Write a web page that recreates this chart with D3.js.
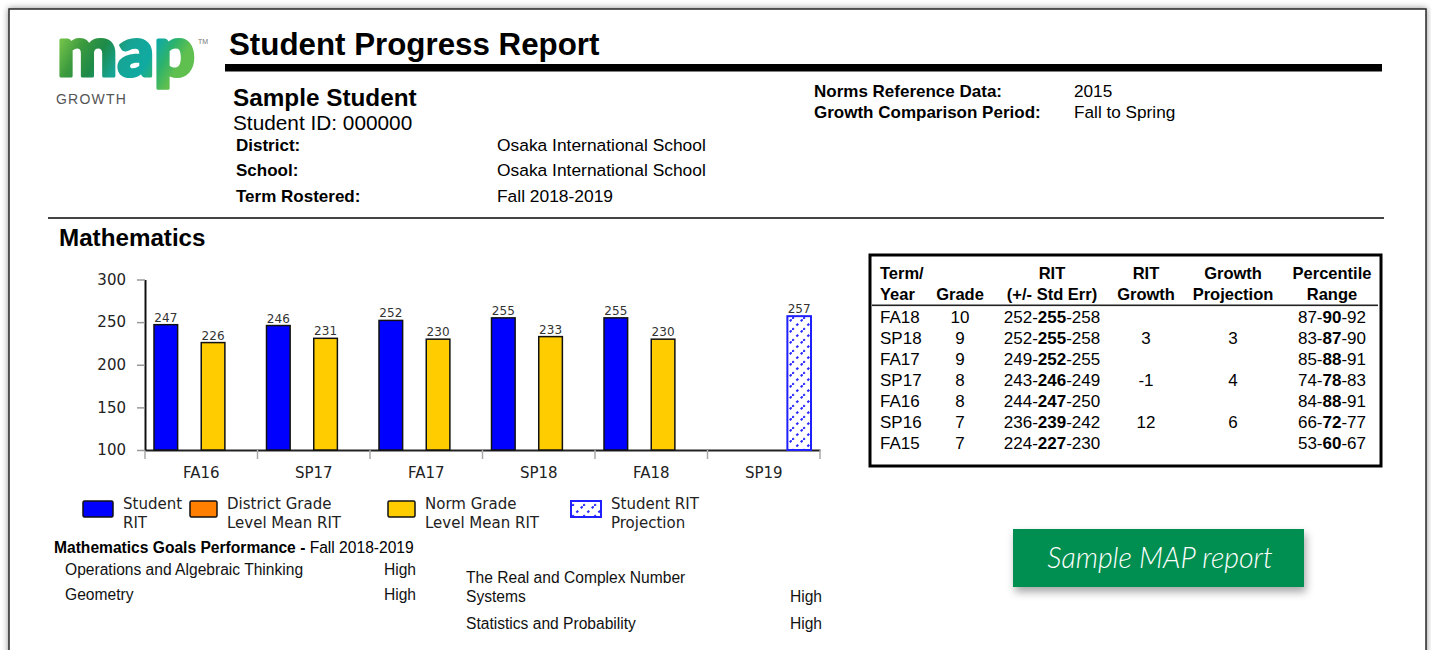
<!DOCTYPE html>
<html>
<head>
<meta charset="utf-8">
<script src="https://cdn.jsdelivr.net/npm/d3@7"></script>
<style>
  html, body { margin: 0; padding: 0; background: #ffffff; }
  svg { display: block; }
</style>
</head>
<body>
<svg id="page" width="1431" height="650"></svg>
<script>
// ---------------- DATA ----------------
const terms = ["FA16", "SP17", "FA17", "SP18", "FA18", "SP19"];
const seriesKeys = ["student", "district", "norm", "projection"];
const studentRIT = [247, 246, 252, 255, 255, null];
const districtMeanRIT = [null, null, null, null, null, null];
const normMeanRIT = [226, 231, 230, 233, 230, null];
const projectedRIT = [null, null, null, null, null, 257];
const yTicks = [100, 150, 200, 250, 300];
const legendLabels = [["Student", "RIT"], ["District Grade", "Level Mean RIT"], ["Norm Grade", "Level Mean RIT"], ["Student RIT", "Projection"]];

const tableHeaders = [["Term/", "Year"], ["", "Grade"], ["RIT", "(+/- Std Err)"], ["RIT", "Growth"], ["Growth", "Projection"], ["Percentile", "Range"]];
const tableTerms = ["FA18", "SP18", "FA17", "SP17", "FA16", "SP16", "FA15"];
const tableGrades = ["10", "9", "9", "8", "8", "7", "7"];
const ritLow = [252, 252, 249, 243, 244, 236, 224];
const ritMid = [255, 255, 252, 246, 247, 239, 227];
const ritHigh = [258, 258, 255, 249, 250, 242, 230];
const ritGrowth = ["", "3", "", "-1", "", "12", ""];
const growthProjection = ["", "3", "", "4", "", "6", ""];
const pctLow = [87, 83, 85, 74, 84, 66, 53];
const pctMid = [90, 87, 88, 78, 88, 72, 60];
const pctHigh = [92, 90, 91, 83, 91, 77, 67];

const goalsLeft = [["Operations and Algebraic Thinking"], ["Geometry"]];
const goalsLeftLevel = ["High", "High"];
const goalsRight = [["The Real and Complex Number", "Systems"], ["Statistics and Probability"]];
const goalsRightLevel = ["High", "High"];

// ---------------- PAGE ----------------
const svg = d3.select("#page");
const defs = svg.append("defs");

const shadow = defs.append("filter").attr("id", "pageShadow").attr("x", "-5%").attr("y", "-5%").attr("width", "110%").attr("height", "110%");
shadow.append("feDropShadow").attr("dx", 0).attr("dy", 0).attr("stdDeviation", 3).attr("flood-color", "#000").attr("flood-opacity", 0.45);

const btnShadow = defs.append("filter").attr("id", "btnShadow").attr("x", "-20%").attr("y", "-30%").attr("width", "140%").attr("height", "180%");
btnShadow.append("feDropShadow").attr("dx", 2).attr("dy", 5).attr("stdDeviation", 4).attr("flood-color", "#000").attr("flood-opacity", 0.35);

const logoGrad = defs.append("linearGradient").attr("id", "logoGrad").attr("x1", "0").attr("y1", "0").attr("x2", "1").attr("y2", "0.35");
[["0", "#2a9e48"], ["0.15", "#72c24a"], ["0.3", "#3c9a3e"], ["0.45", "#1d8a48"], ["0.6", "#17a493"], ["0.78", "#10aaa2"], ["0.9", "#2fb36a"], ["1", "#5fbf4f"]]
  .forEach(([o, c]) => logoGrad.append("stop").attr("offset", o).attr("stop-color", c));

const pat = defs.append("pattern").attr("id", "projPattern").attr("patternUnits", "userSpaceOnUse")
  .attr("width", 11).attr("height", 11);
pat.append("rect").attr("width", 11).attr("height", 11).attr("fill", "#ffffff");
pat.append("line").attr("x1", 0).attr("y1", 11).attr("x2", 11).attr("y2", 0)
  .attr("stroke", "#2b2bff").attr("stroke-width", 2.1).attr("stroke-dasharray", "2.6,3.6");

svg.append("rect").attr("x", 9).attr("y", 9).attr("width", 1417).attr("height", 700)
  .attr("fill", "#fff").attr("stroke", "#2a2a2a").attr("stroke-width", 1.5).attr("filter", "url(#pageShadow)");

// Logo
svg.append("text").attr("x", 57).attr("y", 76).attr("font-family", "Lato, sans-serif").attr("font-weight", 900)
  .attr("font-size", 70).attr("fill", "url(#logoGrad)").attr("stroke", "url(#logoGrad)").attr("stroke-width", 3.2)
  .attr("stroke-linejoin", "round").attr("textLength", 138).attr("lengthAdjust", "spacingAndGlyphs")
  .text("map");
svg.append("text").attr("x", 198).attr("y", 44).attr("font-family", "Liberation Sans, Arial, sans-serif")
  .attr("font-size", 7).attr("fill", "#777").text("TM");
svg.append("text").attr("x", 56).attr("y", 104).attr("font-family", "Liberation Sans, Arial, sans-serif").attr("font-size", 14)
  .attr("fill", "#555").attr("letter-spacing", 1.2).text("GROWTH");

const HF = "Liberation Sans, Arial, Helvetica, sans-serif";
function txt(x, y, s, size, weight, anchor, fill) {
  return svg.append("text").attr("x", x).attr("y", y).attr("font-family", HF).attr("font-size", size)
    .attr("font-weight", weight || "normal").attr("text-anchor", anchor || "start").attr("fill", fill || "#000").text(s);
}

// Header
txt(229, 55, "Student Progress Report", 31.3, "bold");
svg.append("rect").attr("x", 225).attr("y", 64).attr("width", 1157).attr("height", 7.5).attr("fill", "#000");
txt(233, 106, "Sample Student", 24.3, "bold");
txt(233, 130, "Student ID: 000000", 20.8);
txt(236, 151, "District:", 17, "bold");
txt(497, 151, "Osaka International School", 17.4);
txt(236, 176, "School:", 17, "bold");
txt(497, 176, "Osaka International School", 17.4);
txt(236, 202, "Term Rostered:", 17, "bold");
txt(497, 202, "Fall 2018-2019", 17.4);
txt(814, 97, "Norms Reference Data:", 17, "bold");
txt(1074, 97, "2015", 17.2);
txt(814, 118, "Growth Comparison Period:", 17, "bold");
txt(1074, 118, "Fall to Spring", 17.2);
svg.append("rect").attr("x", 48).attr("y", 217).attr("width", 1336).attr("height", 2).attr("fill", "#444");
txt(59, 246, "Mathematics", 24.2, "bold");

// ---------------- CHART ----------------
const CF = "DejaVu Sans, Verdana, sans-serif";
const x0 = d3.scaleBand().domain(terms).range([145, 820]).paddingInner(0).paddingOuter(0);
const x1 = d3.scaleBand().domain(seriesKeys).range([9, 103.5]).padding(0);
const y = d3.scaleLinear().domain([100, 300]).range([450, 279.5]);

const seriesData = {
  student: studentRIT, district: districtMeanRIT, norm: normMeanRIT, projection: projectedRIT
};
const fills = { student: "#0000ff", district: "#ff7f00", norm: "#ffcc00", projection: "url(#projPattern)" };
const strokes = { student: "#111", district: "#111", norm: "#111", projection: "#1f1fff" };

const bars = [];
terms.forEach((t, i) => {
  seriesKeys.forEach(k => {
    const v = seriesData[k][i];
    if (v != null) bars.push({ term: t, key: k, value: v });
  });
});

const chart = svg.append("g");

// x axis with boundary ticks
const xAxisG = chart.append("g").attr("transform", `translate(0,${y(100)})`)
  .call(d3.axisBottom(x0).tickSize(0).tickPadding(17));
xAxisG.select(".domain").attr("stroke", "#222").attr("stroke-width", 2);
xAxisG.selectAll("text").attr("font-family", CF).attr("font-size", 15).attr("fill", "#222");
const boundaries = terms.map(t => x0(t)).concat([x0.range()[1]]);
chart.selectAll("line.bnd").data(boundaries).join("line").attr("class", "bnd")
  .attr("x1", d => d).attr("x2", d => d).attr("y1", y(100)).attr("y2", y(100) + 9)
  .attr("stroke", "#aaa").attr("stroke-width", 1.5);

// y axis
const yAxisG = chart.append("g").attr("transform", `translate(${x0.range()[0]},0)`)
  .call(d3.axisLeft(y).tickValues(yTicks).tickSize(8).tickSizeOuter(0).tickPadding(11));
yAxisG.select(".domain").attr("stroke", "#111").attr("stroke-width", 2);
yAxisG.selectAll(".tick line").attr("stroke", "#999").attr("stroke-width", 1.5);
yAxisG.selectAll("text").attr("font-family", CF).attr("font-size", 15).attr("fill", "#222");

// bars
chart.selectAll("rect.bar").data(bars).join("rect").attr("class", "bar")
  .attr("x", d => x0(d.term) + x1(d.key))
  .attr("y", d => y(d.value))
  .attr("width", x1.bandwidth())
  .attr("height", d => y(100) - y(d.value))
  .attr("fill", d => fills[d.key])
  .attr("stroke", d => strokes[d.key])
  .attr("stroke-width", d => d.key === "projection" ? 2 : 1.5);

chart.selectAll("text.val").data(bars).join("text").attr("class", "val")
  .attr("x", d => x0(d.term) + x1(d.key) + x1.bandwidth() / 2)
  .attr("y", d => y(d.value) - 3)
  .attr("text-anchor", "middle").attr("font-family", CF).attr("font-size", 12).attr("fill", "#333")
  .text(d => d.value);

// legend
const legendX = [83, 190, 388, 571];
const legendW = [30, 27, 27, 30];
const legend = svg.append("g");
seriesKeys.forEach((k, i) => {
  legend.append("rect").attr("x", legendX[i]).attr("y", 501).attr("width", legendW[i]).attr("height", 16)
    .attr("fill", fills[k]).attr("stroke", k === "projection" ? "#1f1fff" : "#111")
    .attr("stroke-width", k === "projection" ? 2 : 1.5).attr("rx", k === "projection" ? 0 : 1.5);
  const t = legend.append("text").attr("font-family", CF).attr("font-size", 15).attr("fill", "#222");
  legendLabels[i].forEach((line, j) => {
    t.append("tspan").attr("x", legendX[i] + legendW[i] + 10).attr("y", 509 + j * 19).text(line);
  });
});

// goals
const gt = svg.append("text").attr("x", 54).attr("y", 553).attr("font-family", HF).attr("font-size", 15.6).attr("fill", "#000");
gt.append("tspan").attr("font-weight", "bold").text("Mathematics Goals Performance - ");
gt.append("tspan").text("Fall 2018-2019");

const goalLeftY = [575, 600];
goalsLeft.forEach((lines, i) => {
  lines.forEach((l, j) => txt(65, goalLeftY[i] + j * 19, l, 15.6, "normal", "start", "#111"));
  txt(416, goalLeftY[i] + (lines.length - 1) * 19, goalsLeftLevel[i], 15.6, "normal", "end", "#111");
});
const goalRightY = [583, 629];
goalsRight.forEach((lines, i) => {
  lines.forEach((l, j) => txt(466, goalRightY[i] + j * 19, l, 15.6, "normal", "start", "#111"));
  txt(822, goalRightY[i] + (lines.length - 1) * 19, goalsRightLevel[i], 15.6, "normal", "end", "#111");
});

// ---------------- TABLE ----------------
const tbl = svg.append("g");
tbl.append("rect").attr("x", 870).attr("y", 255).attr("width", 511).attr("height", 211)
  .attr("fill", "none").attr("stroke", "#000").attr("stroke-width", 3);
tbl.append("rect").attr("x", 872).attr("y", 304.5).attr("width", 506).attr("height", 1.6).attr("fill", "#222");

const colX = [880, 960, 1052, 1146, 1233, 1332];
const colAnchor = ["start", "middle", "middle", "middle", "middle", "middle"];
tableHeaders.forEach((h, c) => {
  h.forEach((line, j) => {
    if (line) txt(colX[c], 279 + j * 20.5, line, 16.5, "bold", colAnchor[c], "#000");
  });
});
const rowY = d3.scaleLinear().domain([0, 6]).range([323, 449]);
tableTerms.forEach((t, r) => {
  const yy = rowY(r);
  txt(colX[0], yy, t, 17, "normal", "start", "#000");
  txt(colX[1], yy, tableGrades[r], 17, "normal", "middle", "#000");
  const rt = txt(colX[2], yy, "", 17, "normal", "middle", "#000");
  rt.append("tspan").text(ritLow[r] + "-");
  rt.append("tspan").attr("font-weight", "bold").text(ritMid[r]);
  rt.append("tspan").text("-" + ritHigh[r]);
  txt(colX[3], yy, ritGrowth[r], 17, "normal", "middle", "#000");
  txt(colX[4], yy, growthProjection[r], 17, "normal", "middle", "#000");
  const pt = txt(colX[5], yy, "", 17, "normal", "middle", "#000");
  pt.append("tspan").text(pctLow[r] + "-");
  pt.append("tspan").attr("font-weight", "bold").text(pctMid[r]);
  pt.append("tspan").text("-" + pctHigh[r]);
});

// ---------------- BUTTON ----------------
svg.append("rect").attr("x", 1013).attr("y", 529).attr("width", 291).attr("height", 58)
  .attr("fill", "#008f51").attr("filter", "url(#btnShadow)");
svg.append("text").attr("x", 1160).attr("y", 568).attr("text-anchor", "middle")
  .attr("font-family", "Lato, 'Open Sans', sans-serif").attr("font-style", "italic").attr("font-weight", 300)
  .attr("font-size", 28.5).attr("fill", "#fff").text("Sample MAP report");
</script>
</body>
</html>
